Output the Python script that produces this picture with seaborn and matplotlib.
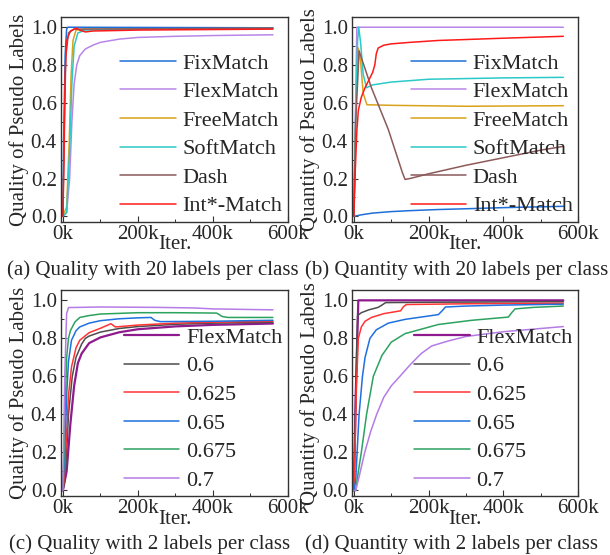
import matplotlib
matplotlib.use("Agg")
import matplotlib.pyplot as plt
import seaborn as sns
import numpy as np
from matplotlib.ticker import MultipleLocator, FuncFormatter

# (a) quality of pseudo labels, 20 labels per class  -- (iteration, value)
A_FIXMATCH = [(0, 0.0), (2e3, 0.4), (6e3, 0.85), (10e3, 0.99), (13e3, 1.0), (560e3, 0.997)]
A_FLEXMATCH = [(0, 0.0), (10e3, 0.02), (18e3, 0.2), (24e3, 0.5), (30e3, 0.7), (37e3, 0.8),
               (45e3, 0.85), (60e3, 0.885), (80e3, 0.905), (100e3, 0.92), (150e3, 0.937),
               (200e3, 0.946), (300e3, 0.952), (400e3, 0.956), (560e3, 0.96)]
A_FREEMATCH = [(0, 0.0), (10e3, 0.05), (17e3, 0.4), (22e3, 0.75), (27e3, 0.93), (35e3, 0.985),
               (60e3, 0.99), (560e3, 0.993)]
A_SOFTMATCH = [(0, 0.0), (10e3, 0.02), (18e3, 0.35), (24e3, 0.7), (30e3, 0.9), (40e3, 0.97),
               (60e3, 0.985), (200e3, 0.99), (560e3, 0.993)]
A_DASH = [(0, 0.0), (4e3, 0.5), (8e3, 0.85), (15e3, 0.97), (30e3, 0.99), (560e3, 0.995)]
A_INTMATCH = [(0, 0.0), (3e3, 0.3), (6e3, 0.75), (10e3, 0.93), (20e3, 0.98), (35e3, 0.995),
              (45e3, 0.985), (60e3, 0.975), (80e3, 0.98), (200e3, 0.985), (560e3, 0.99)]

# (b) quantity of pseudo labels, 20 labels per class
B_FIXMATCH = [(0, 0.0), (20e3, 0.008), (50e3, 0.017), (100e3, 0.025), (150e3, 0.03),
              (226e3, 0.036), (300e3, 0.04), (400e3, 0.046), (560e3, 0.053)]
B_FLEXMATCH = [(0, 0.0), (4e3, 0.5), (8e3, 1.0), (560e3, 1.0)]
B_FREEMATCH = [(0, 0.0), (6e3, 0.6), (12e3, 0.89), (18e3, 0.82), (25e3, 0.65), (35e3, 0.59),
               (100e3, 0.587), (300e3, 0.582), (560e3, 0.585)]
B_SOFTMATCH = [(0, 0.0), (5e3, 0.55), (10e3, 0.93), (13e3, 1.0), (18e3, 0.92), (25e3, 0.75),
               (34e3, 0.68), (50e3, 0.695), (100e3, 0.71), (200e3, 0.725), (400e3, 0.732),
               (560e3, 0.735)]
B_DASH = [(0, 0.0), (5e3, 0.5), (14e3, 0.875), (47e3, 0.68), (92e3, 0.46), (130e3, 0.23),
          (137e3, 0.195), (150e3, 0.2), (200e3, 0.225), (300e3, 0.27), (400e3, 0.31),
          (500e3, 0.35), (560e3, 0.37)]
B_INTMATCH = [(0, 0.0), (4e3, 0.25), (8e3, 0.45), (12e3, 0.56), (20e3, 0.63), (30e3, 0.68),
              (40e3, 0.72), (50e3, 0.76), (56e3, 0.8), (60e3, 0.86), (65e3, 0.89), (80e3, 0.905),
              (100e3, 0.912), (150e3, 0.92), (226e3, 0.93), (300e3, 0.935), (400e3, 0.942),
              (560e3, 0.952)]

# (c) quality of pseudo labels, 2 labels per class
C_FLEXMATCH = [(0, 0.0), (10e3, 0.1), (20e3, 0.35), (30e3, 0.55), (40e3, 0.67), (50e3, 0.72),
               (70e3, 0.775), (100e3, 0.805), (150e3, 0.832), (200e3, 0.848), (300e3, 0.863),
               (400e3, 0.871), (560e3, 0.878)]
C_060 = [(0, 0.0), (5e3, 0.05), (10e3, 0.2), (15e3, 0.4), (25e3, 0.6), (35e3, 0.7), (50e3, 0.77),
         (60e3, 0.8), (70e3, 0.812), (100e3, 0.833), (150e3, 0.852), (200e3, 0.862),
         (300e3, 0.874), (400e3, 0.88), (560e3, 0.885)]
C_0625 = [(0, 0.0), (5e3, 0.1), (10e3, 0.3), (15e3, 0.5), (23e3, 0.65), (35e3, 0.75),
          (45e3, 0.79), (70e3, 0.83), (100e3, 0.853), (128e3, 0.877), (140e3, 0.86),
          (200e3, 0.87), (300e3, 0.88), (400e3, 0.885), (560e3, 0.89)]
C_065 = [(0, 0.0), (5e3, 0.2), (10e3, 0.5), (15e3, 0.68), (23e3, 0.79), (35e3, 0.84),
         (45e3, 0.86), (70e3, 0.88), (100e3, 0.893), (150e3, 0.903), (200e3, 0.908),
         (235e3, 0.91), (245e3, 0.895), (260e3, 0.888), (400e3, 0.89), (560e3, 0.895)]
C_0675 = [(0, 0.0), (5e3, 0.35), (10e3, 0.7), (15e3, 0.8), (20e3, 0.84), (32e3, 0.886),
          (45e3, 0.91), (70e3, 0.92), (100e3, 0.928), (200e3, 0.935), (300e3, 0.935),
          (410e3, 0.933), (425e3, 0.915), (440e3, 0.91), (560e3, 0.91)]
C_070 = [(0, 0.0), (5e3, 0.6), (10e3, 0.93), (15e3, 0.962), (100e3, 0.965), (250e3, 0.963),
         (350e3, 0.96), (400e3, 0.955), (560e3, 0.95)]

# (d) quantity of pseudo labels, 2 labels per class
D_FLEXMATCH = [(0, 0.0), (5e3, 0.5), (12e3, 1.0), (560e3, 1.0)]
D_060 = [(0, 0.0), (5e3, 0.5), (10e3, 0.92), (20e3, 0.935), (40e3, 0.95), (65e3, 0.963),
         (75e3, 0.975), (85e3, 0.988), (200e3, 0.99), (560e3, 0.993)]
D_0625 = [(0, 0.0), (3e3, 0.2), (7e3, 0.55), (12e3, 0.8), (20e3, 0.86), (30e3, 0.89),
          (47e3, 0.91), (80e3, 0.93), (125e3, 0.945), (132e3, 0.965), (140e3, 0.978),
          (300e3, 0.982), (560e3, 0.985)]
D_065 = [(0, 0.0), (5e3, 0.05), (10e3, 0.25), (14e3, 0.4), (23e3, 0.6), (30e3, 0.7),
         (43e3, 0.8), (60e3, 0.845), (92e3, 0.88), (137e3, 0.9), (226e3, 0.925),
         (236e3, 0.945), (245e3, 0.965), (300e3, 0.97), (400e3, 0.975), (560e3, 0.98)]
D_0675 = [(0, 0.0), (5e3, 0.0), (12e3, 0.1), (20e3, 0.2), (34e3, 0.4), (52e3, 0.6),
          (75e3, 0.71), (100e3, 0.78), (137e3, 0.825), (226e3, 0.873), (315e3, 0.895),
          (413e3, 0.912), (422e3, 0.935), (431e3, 0.955), (480e3, 0.963), (560e3, 0.97)]
D_070 = [(0, 0.0), (5e3, 0.0), (15e3, 0.08), (29e3, 0.2), (45e3, 0.31), (61e3, 0.4),
         (80e3, 0.49), (100e3, 0.55), (123e3, 0.6), (150e3, 0.66), (180e3, 0.72),
         (208e3, 0.76), (250e3, 0.785), (300e3, 0.81), (400e3, 0.835), (500e3, 0.852),
         (560e3, 0.862)]

LABELS_TOP = ["FixMatch", "FlexMatch", "FreeMatch", "SoftMatch", "Dash", "Int*-Match"]
COLORS_TOP = ["#1f6fd9", "#b886e8", "#d9a21b", "#2cc9c9", "#8c5a5a", "#ff1a1a"]
LABELS_BOT = ["FlexMatch", "0.6", "0.625", "0.65", "0.675", "0.7"]
COLORS_BOT = ["#8e1a8e", "#4d4d4d", "#ff3333", "#1f70e0", "#2ca25f", "#b57be6"]

panels = [
    ([A_FIXMATCH, A_FLEXMATCH, A_FREEMATCH, A_SOFTMATCH, A_DASH, A_INTMATCH],
     LABELS_TOP, COLORS_TOP, "Quality of Pseudo Labels", "(a) Quality with 20 labels per class"),
    ([B_FIXMATCH, B_FLEXMATCH, B_FREEMATCH, B_SOFTMATCH, B_DASH, B_INTMATCH],
     LABELS_TOP, COLORS_TOP, "Quantity of Pseudo Labels", "(b) Quantity with 20 labels per class"),
    ([C_FLEXMATCH, C_060, C_0625, C_065, C_0675, C_070],
     LABELS_BOT, COLORS_BOT, "Quality of Pseudo Labels", "(c) Quality with 2 labels per class"),
    ([D_FLEXMATCH, D_060, D_0625, D_065, D_0675, D_070],
     LABELS_BOT, COLORS_BOT, "Quantity of Pseudo Labels", "(d) Quantity with 2 labels per class"),
]

sns.set_style("ticks")
plt.rcParams['font.family'] = ['Liberation Serif', 'DejaVu Serif']

fig = plt.figure(figsize=(6.1, 5.55), dpi=100)
# axes rectangles [left, bottom, width, height]
rects = [[0.100, 0.600, 0.372, 0.369],
         [0.577, 0.600, 0.371, 0.369],
         [0.100, 0.106, 0.372, 0.371],
         [0.577, 0.106, 0.371, 0.371]]
caption_pos = [(0.25, 0.513), (0.748, 0.513), (0.246, 0.02), (0.74, 0.02)]

for i, (series, labels, colors, ylab, cap) in enumerate(panels):
    ax = fig.add_axes(rects[i])
    for pts, lab, col in zip(series, labels, colors):
        xs = [p[0] for p in pts]
        ys = [p[1] for p in pts]
        lw = 1.6 if (i >= 2 and lab == "FlexMatch") else 1.1
        sns.lineplot(x=xs, y=ys, ax=ax, color=col, label=lab, linewidth=lw,
                     estimator=None, sort=False)
    ax.set_xlim(-5000, 600000)
    ax.set_ylim(-0.03, 1.053)
    ax.xaxis.set_major_locator(MultipleLocator(200000))
    ax.xaxis.set_minor_locator(MultipleLocator(100000))
    ax.xaxis.set_major_formatter(FuncFormatter(lambda v, p: f"{int(round(v / 1000))}k"))
    ax.yaxis.set_major_locator(MultipleLocator(0.2))
    ax.yaxis.set_minor_locator(MultipleLocator(0.1))
    ax.yaxis.set_major_formatter(FuncFormatter(lambda v, p: f"{v:.1f}"))
    ax.tick_params(which="major", direction="in", length=4, width=0.8,
                   labelsize=15, color="#333333")
    ax.tick_params(axis="y", which="major", pad=3)
    ax.tick_params(axis="x", which="major", pad=2)
    ax.tick_params(which="minor", direction="in", length=2.5, width=0.7, color="#333333")
    for sp in ax.spines.values():
        sp.set_color("#333333")
        sp.set_linewidth(1.0)
    ax.set_xlabel("Iter.", fontsize=15, labelpad=-6)
    ax.set_ylabel(ylab, fontsize=15, labelpad=1)
    ax.legend(loc="lower right", frameon=False, fontsize=16, handlelength=2.5,
              handletextpad=0.3, labelspacing=0.36, borderaxespad=0.15,
              borderpad=0.1)
    fig.text(caption_pos[i][0], caption_pos[i][1], cap, fontsize=15,
             ha="center", va="center")

fig.savefig("out.png", dpi=100)
